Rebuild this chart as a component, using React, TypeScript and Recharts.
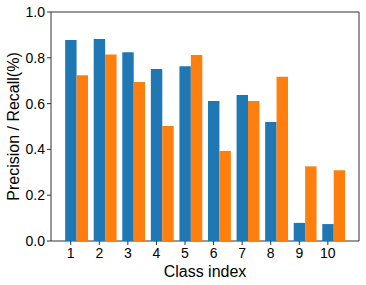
import { BarChart, Bar, XAxis, YAxis, ReferenceArea } from "recharts";

const classes = [1, 2, 3, 4, 5, 6, 7, 8, 9, 10];
const precision = [0.878, 0.882, 0.824, 0.751, 0.763, 0.611, 0.638, 0.52, 0.079, 0.074];
const recall = [0.724, 0.814, 0.694, 0.502, 0.812, 0.393, 0.611, 0.717, 0.326, 0.309];
const yTicks = [0, 0.2, 0.4, 0.6, 0.8, 1.0];

// bars are 0.4 class units wide; blue bar sits on the tick, orange to its right
const BAR_W = 0.4;
const X_DOMAIN: [number, number] = [0.31, 11.09];

const data = classes.map((c, i) => ({
  pos: c + BAR_W / 2,
  precision: precision[i],
  recall: recall[i],
}));

const FONT = "'Liberation Sans', Arial, sans-serif";

const YLabel = (props: any) => {
  const vb = props.viewBox || {};
  const cx = 13;
  const cy = vb.y + vb.height / 2;
  return (
    <text
      x={cx}
      y={cy}
      transform={`rotate(-90, ${cx}, ${cy})`}
      textAnchor="middle"
      dominantBaseline="central"
      fontSize={16}
      fontFamily={FONT}
      fill="#000"
    >
      Precision / Recall(%)
    </text>
  );
};

export default function App() {
  const plotW = 308;
  const barPx = (plotW / (X_DOMAIN[1] - X_DOMAIN[0])) * BAR_W;
  return (
    <div style={{ position: "absolute", left: 0, top: 0, background: "#fff" }}>
      <BarChart
        width={366}
        height={285}
        data={data}
        margin={{ top: 12, right: 7, bottom: 0, left: 6 }}
        barGap={0}
        barSize={barPx}
      >
        <XAxis
          dataKey="pos"
          type="number"
          domain={X_DOMAIN}
          ticks={classes}
          allowDataOverflow
          height={44}
          axisLine={false}
          tickSize={4}
          tickMargin={3}
          tickLine={{ stroke: "#333" }}
          tick={{ fontSize: 14, fill: "#000", fontFamily: FONT }}
          label={{
            value: "Class index",
            position: "insideBottom",
            offset: 8,
            fontSize: 16,
            fill: "#000",
            fontFamily: FONT,
          }}
        />
        <YAxis
          type="number"
          domain={[0, 1]}
          ticks={yTicks}
          width={45}
          axisLine={false}
          tickSize={4}
          tickMargin={2}
          tickLine={{ stroke: "#333" }}
          tickFormatter={(v: number) => v.toFixed(1)}
          tick={{ fontSize: 14, fill: "#000", fontFamily: FONT }}
          label={<YLabel />}
        />
        <Bar dataKey="precision" fill="#1f77b4" isAnimationActive={false} />
        <Bar dataKey="recall" fill="#ff7f0e" isAnimationActive={false} />
        <ReferenceArea
          x1={X_DOMAIN[0]}
          x2={X_DOMAIN[1]}
          y1={0}
          y2={1}
          fill="none"
          stroke="#333"
          strokeWidth={1}
          ifOverflow="visible"
        />
      </BarChart>
    </div>
  );
}
